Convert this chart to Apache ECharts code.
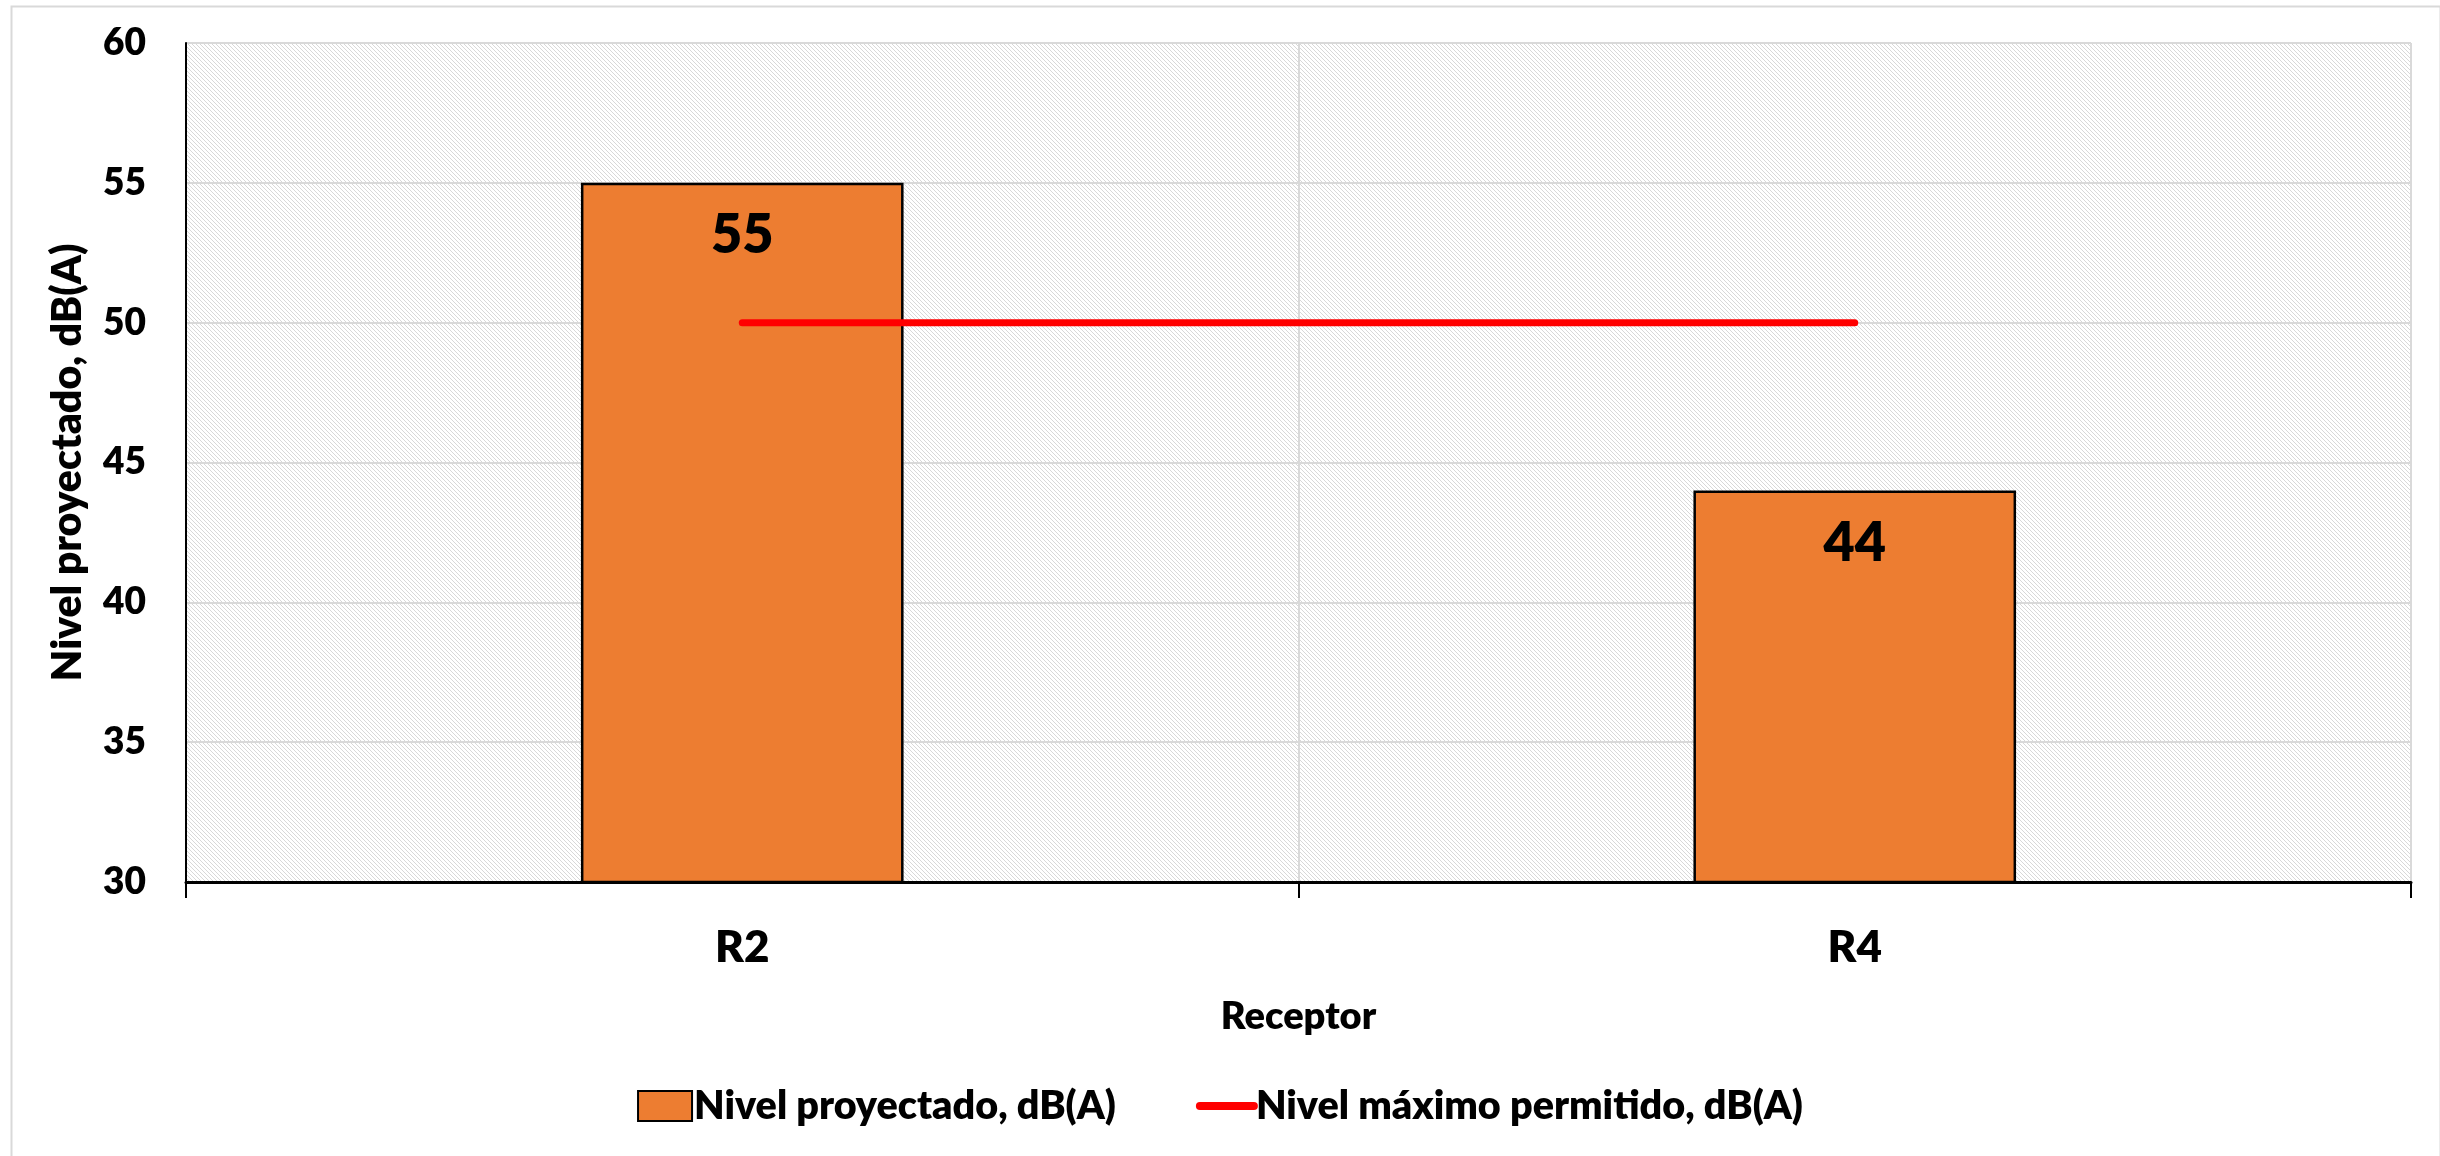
<!DOCTYPE html>
<html>
<head>
<meta charset="utf-8">
<script src="https://cdn.jsdelivr.net/npm/echarts@6/dist/echarts.min.js"></script>
<style>
html,body{margin:0;padding:0;background:#fff;}
#c{width:2440px;height:1156px;}
</style>
</head>
<body>
<div id="c"></div>
<script>
const categories = ['R2', 'R4'];
const projected = [55, 44];
const maxAllowed = [50, 50];
const yTicks = { min: 30, max: 60, interval: 5 };
const seriesNames = ['Nivel proyectado, dB(A)', 'Nivel máximo permitido, dB(A)'];

// hatch pattern
const pc = document.createElement('canvas');
pc.width = 8; pc.height = 8;
const g = pc.getContext('2d');
g.fillStyle = '#ffffff';
g.fillRect(0, 0, 8, 8);
g.fillStyle = '#d8d8d8';
for (let y = 0; y < 8; y++) {
  for (let x = 0; x < 8; x++) {
    if (((x - y) % 4 + 4) % 4 === 0) g.fillRect(x, y, 1, 1);
  }
}

const FONT = 'Lato';
const W = 800;
const chart = echarts.init(document.getElementById('c'));
chart.setOption({
  animation: false,
  backgroundColor: '#fff',
  graphic: [{
    type: 'rect', left: 9, top: 4, z: -10,
    shape: { width: 2429, height: 1170 },
    style: { fill: 'none', stroke: '#d9d9d9', lineWidth: 2 }
  }],
  grid: {
    left: 186, right: 29, top: 43, bottom: 274,
    show: true, borderWidth: 0,
    backgroundColor: { image: pc, repeat: 'repeat' }
  },
  legend: {
    bottom: 25, left: 'center',
    itemWidth: 54, itemHeight: 30, itemGap: 80,
    textStyle: { fontFamily: FONT, fontWeight: W, fontSize: 39.5, color: '#000', padding: [0, 0, 0, -3] },
    data: [
      { name: seriesNames[0], icon: 'rect' },
      { name: seriesNames[1],
        itemStyle: { color: 'rgba(0,0,0,0)', borderWidth: 0, opacity: 0 },
        lineStyle: { width: 8, cap: 'round', color: '#ff0000' } }
    ]
  },
  xAxis: {
    type: 'category',
    data: categories,
    name: 'Receptor',
    nameLocation: 'middle',
    nameGap: 116,
    nameTextStyle: { fontFamily: FONT, fontWeight: W, fontSize: 38, color: '#000' },
    axisLine: { lineStyle: { color: '#000', width: 3 } },
    axisTick: { show: true, length: 16, lineStyle: { color: '#000', width: 2 } },
    axisLabel: { fontFamily: FONT, fontWeight: W, fontSize: 44, color: '#000', margin: 44 },
    splitLine: { show: true, lineStyle: { color: '#d9d9d9', width: 2 } }
  },
  yAxis: {
    type: 'value',
    min: yTicks.min, max: yTicks.max, interval: yTicks.interval,
    name: 'Nivel proyectado, dB(A)',
    nameLocation: 'middle',
    nameGap: 98,
    nameTextStyle: { fontFamily: FONT, fontWeight: W, fontSize: 41, color: '#000' },
    axisLine: { show: true, lineStyle: { color: '#000', width: 2 } },
    axisTick: { show: false },
    axisLabel: { fontFamily: FONT, fontWeight: W, fontSize: 37, color: '#000', margin: 40 },
    splitLine: { show: true, lineStyle: { color: '#d9d9d9', width: 2 } }
  },
  series: [
    {
      name: seriesNames[0],
      type: 'bar',
      data: projected,
      barWidth: '29%',
      itemStyle: { color: '#ED7D31', borderColor: '#000', borderWidth: 2.5 },
      label: {
        show: true, position: 'insideTop', distance: 26,
        fontFamily: FONT, fontWeight: W, fontSize: 54, color: '#000'
      },
      z: 2
    },
    {
      name: seriesNames[1],
      type: 'line',
      data: maxAllowed,
      symbol: 'none',
      lineStyle: { color: '#ff0000', width: 7, cap: 'round' },
      itemStyle: { color: '#ff0000' },
      z: 3
    }
  ]
});
</script>
</body>
</html>
